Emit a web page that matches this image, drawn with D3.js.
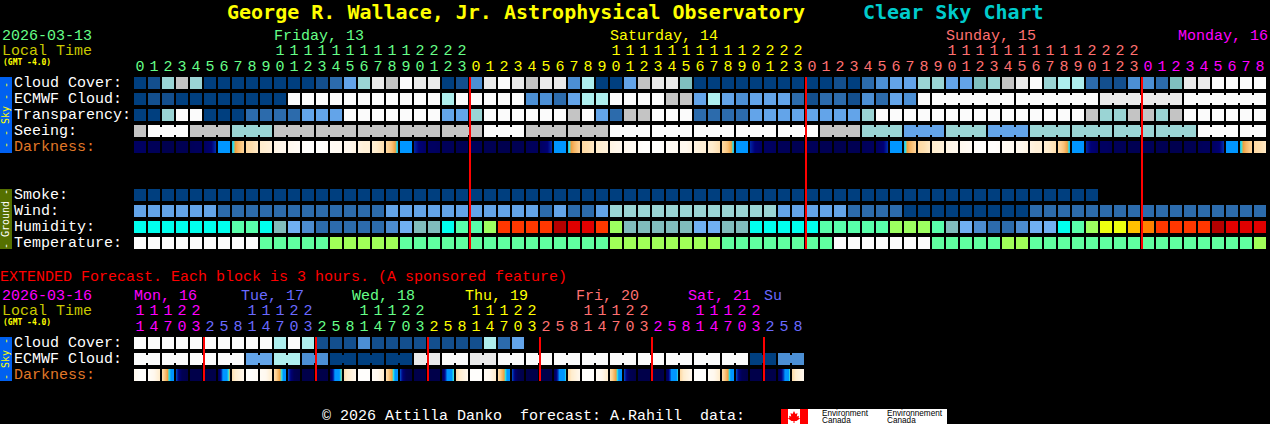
<!DOCTYPE html>
<html><head><meta charset="utf-8">
<script src="https://cdn.jsdelivr.net/npm/d3@7"></script>
<style>
html,body{margin:0;padding:0;background:#000;overflow:hidden}
svg{display:block}
text{font-family:"Liberation Mono",monospace;font-size:15px;white-space:pre}
</style></head><body>
<svg id="c" width="1270" height="424"></svg>
<script>
// ---------- main forecast (hourly, one entry per block) ----------
const cloudCover = [0,10,60,80,60,0,0,0,0,0,0,0,0,10,20,40,60,90,80,100,90,90,0,10,30,90,100,90,80,90,90,30,70,0,0,40,80,90,90,50,0,0,0,0,0,0,0,0,0,0,10,0,20,30,40,40,60,60,40,40,50,60,80,90,100,60,70,70,20,10,10,30,30,20,50,90,90,100,100,100,100];
const ecmwfCloud = [0,10,10,0,0,0,0,0,0,0,0,100,100,100,100,100,100,100,100,100,100,100,70,100,100,100,100,100,30,30,20,40,70,70,100,100,100,100,80,80,40,70,40,30,40,40,40,20,10,20,20,10,30,20,40,30,100,100,100,100,100,100,100,100,100,100,100,100,100,90,90,90,90,90,90,100,100,100,100,100,100];
const transparency = [0,0,60,100,100,0,0,0,20,20,20,20,40,40,40,100,100,100,100,100,100,100,40,40,60,100,100,100,100,100,100,80,100,40,20,80,80,100,100,100,20,20,20,20,40,40,40,40,40,40,40,40,60,100,100,100,100,100,100,100,100,100,100,100,100,100,100,100,80,60,60,80,80,60,80,100,100,100,100,100,100];
const seeing = [80,100,100,100,80,80,80,60,60,60,80,80,80,80,80,80,80,80,80,80,80,80,80,80,80,100,100,100,80,80,80,80,80,80,100,100,100,100,100,100,100,100,100,100,100,100,100,100,100,80,80,80,60,60,60,40,40,40,60,60,60,40,40,40,60,60,60,60,60,60,60,60,60,60,60,60,100,100,100,100,100];
const smoke = [0,0,0,0,0,0,0,0,0,0,0,0,0,0,0,0,0,0,0,0,0,0,0,0,0,0,0,0,0,0,0,0,0,0,0,0,0,0,0,0,0,0,0,0,0,0,0,0,0,0,0,0,0,0,0,0,0,0,0,0,0,0,0,0,0,0,0,0,0];
const wind = [40,40,40,40,40,40,20,20,20,20,20,20,20,20,20,20,20,20,40,40,40,40,40,40,40,40,40,40,40,20,40,20,20,40,60,60,60,60,60,60,60,60,60,60,60,60,40,40,40,40,40,20,20,20,20,0,0,0,0,0,0,0,0,0,20,20,20,20,20,20,20,20,20,20,20,20,20,20,20,20,20];
const humidity = [50,50,50,50,50,50,50,55,55,50,45,40,35,30,30,30,30,30,35,40,45,45,50,55,55,60,80,80,80,80,90,85,85,80,60,45,45,45,45,45,40,40,45,45,50,50,50,50,50,55,55,55,55,55,60,60,60,55,45,40,35,30,30,35,40,40,50,55,60,65,65,70,75,80,80,80,80,90,85,85,85];
const temperature = [-8,-8,-8,-8,-8,-8,-8,-8,-8,-3,-3,-3,-3,-3,2,2,2,2,2,-3,-3,-3,-3,-3,-3,-3,-3,-3,-3,-3,-3,-3,-3,-3,2,2,2,2,2,2,2,2,-3,-3,-3,-3,-3,-3,-3,-3,-8,-8,-8,-8,-8,-8,-8,-3,-3,-3,-3,-3,2,2,-3,-3,-3,-3,-3,-3,-3,-3,-3,-3,-3,-3,-3,-3,-3,-3,2];
// sky brightness inside each block: [start, middle, end]
const darkness = [[.5,.5,.5],[.3,.3,.3],[.1,.1,.1],[.2,.2,.2],[.3,.4,.4],[.5,.8,1.5],[2.2,2.5,2.8],[3.1,4,4.6],[4.8,5,5.4],[5.5,5.8,6.1],[6.5,6.8,7],[7,7.5,8],[8.5,9,9],[9,9,8.5],[8,7.5,7.5],[7,7,6.5],[6.5,6,6],[5.8,5.4,5],[4.8,4.2,3.1],[2.8,2.5,2.2],[1.4,.9,.6],[.5,.5,.4],[.3,.3,.3],[.2,.2,.2],
 [.3,.3,.3],[.2,.2,.2],[.1,.1,.1],[.2,.2,.2],[.3,.4,.4],[.5,.8,1.5],[2.2,2.5,2.8],[3.1,4,4.6],[4.8,5,5.4],[5.5,5.8,6.1],[6.5,6.8,7],[7,7.5,8],[8.5,9,9],[9,9,8.5],[8,7.5,7.5],[7,7,6.5],[6.5,6,6],[5.8,5.4,5],[4.8,4.2,3.1],[2.8,2.5,2.2],[1.4,.9,.6],[.5,.5,.4],[.3,.3,.3],[.2,.2,.2],
 [.3,.3,.3],[.2,.2,.2],[.1,.1,.1],[.2,.2,.2],[.3,.4,.4],[.5,.8,1.5],[2.2,2.5,2.8],[3.1,4,4.6],[4.8,5,5.4],[5.5,5.8,6.1],[6.5,6.8,7],[7,7.5,8],[8.5,9,9],[9,9,8.5],[8,7.5,7.5],[7,7,6.5],[6.5,6,6],[5.8,5.4,5],[4.8,4.2,3.1],[2.8,2.5,2.2],[1.4,.9,.6],[.5,.5,.4],[.3,.3,.3],[.2,.2,.2],
 [.3,.3,.3],[.2,.2,.2],[.1,.1,.1],[.2,.2,.2],[.3,.4,.4],[.5,.8,1.5],[2.2,2.5,2.8],[3.1,4,4.6],[4.8,5,5.4]];
// sizes of the merged blocks (notched joins)
const seeingBlocks = [1,3,3,3,3,3,3,3,3,3,3,3,3,3,3,3,3,3,3,3,3,3,3,3,3,3,3,2];
const ecmwfBlocks = [1,1,1,1,1,1,1,1,1,1,1,1,1,1,1,1,1,1,1,1,1,1,1,1,1,1,1,1,1,1,1,1,1,1,1,1,1,1,1,1,1,1,1,1,1,1,1,1,1,1,1,1,1,1,1,1,1,6,6,6,6];
const dayLabels = ["Friday, 13","Saturday, 14","Sunday, 15","Monday, 16"];
const dayColumns = [10,34,58,74.57];
const dayColors = ["#66ff88","#ffff00","#ff7070","#ff00ff"];
// ---------- extended forecast (3-hour blocks) ----------
const extHours = [11,14,17,20,23,2,5,8,11,14,17,20,23,2,5,8,11,14,17,20,23,2,5,8,11,14,17,20,23,2,5,8,11,14,17,20,23,2,5,8,11,14,17,20,23,2,5,8];
const extDays = [0,0,0,0,0,1,1,1,1,1,1,1,1,2,2,2,2,2,2,2,2,3,3,3,3,3,3,3,3,4,4,4,4,4,4,4,4,5,5,5,5,5,5,5,5,6,6,6];
const extDayLabels = ["Mon, 16","Tue, 17","Wed, 18","Thu, 19","Fri, 20","Sat, 21","Su"];
const extDayColumns = [0,7.64,15.57,23.64,31.57,39.57,45];
const extDayColors = ["#ff00ff","#6a6aff","#66ff88","#ffff00","#ff7070","#ff00ff","#6a6aff"];
const extCloud = [100,100,100,100,100,100,100,100,100,100,70,100,70,10,10,10,30,10,10,10,10,10,10,10,10,70,20,40];
const extEcmwf = [100,100,100,100,100,100,100,100,40,40,70,70,30,30,0,0,0,0,0,0,90,90,100,100,90,90,100,100,100,100,100,100,100,100,100,100,100,100,100,100,100,100,100,100,0,0,30,30];
const extDarkness = [[7,9,9],[8.5,7,5.5],[5,3.5,2.5],[1.7,.2,0],[0,0,0],[0,0,0],[.2,2.4,3.6],[5,6,7],[9,9,8],[8,7,5.5],[5,3.6,2.5],[1.7,.2,0],[0,0,0],[0,0,0],[.2,2.4,3.5],[5,6,7],[9,9,9],[8,7,5.5],[5,3.6,2.4],[1.7,.2,0],[0,0,0],[0,0,0],[.2,2.3,3.4],[4.8,6,7],[9,9,9],[8,7,5.5],[5,3.6,2.4],[1.7,.2,0],[0,0,0],[0,0,0],[.2,2.2,3.3],[4.8,6,7],[9,9,9],[8,7,5.5],[5,3.6,2.3],[1.7,.2,0],[0,0,0],[0,0,0],[.1,2.2,3.3],[4.8,6,7],[9,9,9],[8,7,5.5],[5,3.6,2.3],[1.7,.2,0],[0,0,0],[0,0,0],[.1,1.7,3.4],[4.8,6,7]];
const extEcmwfBlocks = [2,2,2,2,2,2,2,2,2,2,2,2,2,2,2,2,2,2,2,2,2,2,2,2];

// ---------- colour scales ----------
const levelColor = d3.scaleOrdinal([0,10,20,30,40,50,60,70,80,90,100],
  ["#003f7f","#134f8e","#2c6bac","#4c8fd4","#63a4e9","#7fbfbf","#9ad4d4","#aeeeee","#c4c4c4","#eaeaea","#fbfbfb"]);
const humidityColor = d3.scaleOrdinal([30,35,40,45,50,55,60,65,70,75,80,85,90],
  ["#2c6bac","#4c8cd0","#70b0f2","#80bcbc","#00ffee","#58ffaa","#9dff60","#eeff10","#ffc000","#ff8000","#ff3700","#e00000","#b50000"]);
const temperatureColor = d3.scaleOrdinal([-8,-3,2],["#fbfbfb","#60ffa0","#a0ff58"]);
const brightnessColor = d3.scaleLinear()
  .domain([0,1,1.5,2,3,3.3,3.6,4.5,5.5,7,9])
  .range(["#00004a","#000078","#0030b0","#0096ff","#0096ff","#30e0e0","#f0a040","#fdd090","#ffeccc","#fff8ee","#fffefc"]);

// ---------- layout ----------
const STEP = 14, CELL = 12, LEFT = 134;
const svg = d3.select("#c");
svg.append("rect").attr("width",1270).attr("height",424).attr("fill","#000");
const bandFor = n => d3.scaleBand().domain(d3.range(n)).range([LEFT, LEFT+n*STEP-(STEP-CELL)]).paddingInner((STEP-CELL)/STEP);
const xMain = bandFor(81), xExt = bandFor(48);
const yMain = d3.scalePoint().domain(["Cloud Cover:","ECMWF Cloud:","Transparency:","Seeing:","Darkness:","_a","_b","Smoke:","Wind:","Humidity:","Temperature:"]).range([77,77+10*16]);
const yExt = d3.scalePoint().domain(["Cloud Cover:","ECMWF Cloud:","Darkness:"]).range([337,337+2*16]);

function txt(x,y,s,fill,extra){
  const t = svg.append("text").attr("x",x).attr("y",y).attr("fill",fill).text(s);
  if(extra) for(const k in extra) t.style(k,extra[k]);
  return t;
}
function row(x,y0,values,color,blocks){
  const g = svg.append("g").attr("shape-rendering","crispEdges");
  g.selectAll("rect.c").data(values).join("rect").attr("class","c")
    .attr("x",(d,i)=>x(i)).attr("y",y0).attr("width",x.bandwidth()).attr("height",CELL).attr("fill",d=>color(d));
  if(blocks){
    const joins=[]; let s=0;
    blocks.forEach(n=>{ for(let k=s;k<s+n-1;k++) joins.push(k); s+=n; });
    g.selectAll("rect.j").data(joins).join("rect").attr("class","j")
      .attr("x",i=>x(i)+x.bandwidth()).attr("y",y0+2).attr("width",x.step()-x.bandwidth()).attr("height",CELL-4)
      .attr("fill",i=>color(values[i]));
  }
}
function darkRow(x,y0,values){
  const g = svg.append("g").attr("shape-rendering","crispEdges");
  const px = d3.range(CELL);
  const interp = d3.scaleLinear().domain([0,.5,1]);
  values.forEach((tri,i)=>{
    interp.range(tri);
    g.selectAll(null).data(px).join("rect")
      .attr("x",p=>x(i)+p).attr("y",y0).attr("width",1).attr("height",CELL)
      .attr("fill",p=>brightnessColor(interp((p+.5)/CELL)));
  });
}
function sideBar(y,h,fill,s,tc){
  svg.append("rect").attr("x",0).attr("y",y).attr("width",12).attr("height",h).attr("fill",fill).attr("shape-rendering","crispEdges");
  return svg.append("text").attr("transform",`translate(9,${y+h/2}) rotate(-90)`).attr("text-anchor","middle").attr("fill",tc)
    .style("font-family","DejaVu Sans Mono").style("font-size","10px").text(s);
}

// ---------- title ----------
const bold = {"font-family":"DejaVu Sans Mono","font-size":"20px","font-weight":"bold"};
txt(227,19,"George R. Wallace, Jr. Astrophysical Observatory","#ffff00",bold);
txt(863,19,"Clear Sky Chart","#00cccc",bold);

// ---------- header main ----------
const gmt = {"font-family":"DejaVu Sans Mono","font-size":"8px","font-weight":"bold"};
txt(2,40,"2026-03-13","#66ff88");
txt(2,55,"Local Time","#c8c800");
txt(3,65,"(GMT -4.0)","#ffff00",gmt);
dayLabels.forEach((s,i)=>txt(LEFT+dayColumns[i]*STEP,40,s,dayColors[i]));
d3.range(81).forEach(i=>{
  const h=i%24, c=dayColors[Math.floor(i/24)], cx=xMain(i)+CELL/2;
  if(h>=10) txt(cx,55,String(Math.floor(h/10)),c,{"text-anchor":"middle"});
  txt(cx,71,String(h%10),c,{"text-anchor":"middle"});
});

// ---------- main rows ----------
sideBar(77,76,"#0060f0","- - Sky - -","#ffff00");
sideBar(189,60,"#557000","- Ground -","#ffffff");
[["Cloud Cover:",cloudCover,levelColor,null],["ECMWF Cloud:",ecmwfCloud,levelColor,ecmwfBlocks],["Transparency:",transparency,levelColor,null],["Seeing:",seeing,levelColor,seeingBlocks],
 ["Smoke:",smoke,levelColor,null],["Wind:",wind,levelColor,null],["Humidity:",humidity,humidityColor,null],["Temperature:",temperature,temperatureColor,null]]
 .forEach(([n,v,c,b])=>{ row(xMain,yMain(n),v,c,b); txt(14,yMain(n)+9.5,n,"#ffffff"); });
darkRow(xMain,yMain("Darkness:"),darkness);
txt(14,yMain("Darkness:")+9.5,"Darkness:","#e07828");

// midnight lines
svg.append("g").attr("shape-rendering","crispEdges").selectAll("rect").data([24,48,72]).join("rect")
  .attr("x",i=>xMain(i)-1).attr("y",77).attr("width",2).attr("height",172).attr("fill","#ff0000");

// ---------- extended ----------
txt(0,281,"EXTENDED Forecast. Each block is 3 hours. (A sponsored feature)","#ff0000");
txt(2,300,"2026-03-16","#ff00ff");
txt(2,315,"Local Time","#c8c800");
txt(3,325,"(GMT -4.0)","#ffff00",gmt);
extDayLabels.forEach((s,i)=>txt(LEFT+extDayColumns[i]*STEP,300,s,extDayColors[i]));
extHours.forEach((h,i)=>{
  const c=extDayColors[extDays[i]], cx=xExt(i)+CELL/2;
  if(h>=10) txt(cx,315,String(Math.floor(h/10)),c,{"text-anchor":"middle"});
  txt(cx,331,String(h%10),c,{"text-anchor":"middle"});
});
sideBar(337,44,"#0060f0","- Sky -","#ffff00");
row(xExt,yExt("Cloud Cover:"),extCloud,levelColor,null);
row(xExt,yExt("ECMWF Cloud:"),extEcmwf,levelColor,extEcmwfBlocks);
darkRow(xExt,yExt("Darkness:"),extDarkness);
txt(14,yExt("Cloud Cover:")+9.5,"Cloud Cover:","#ffffff");
txt(14,yExt("ECMWF Cloud:")+9.5,"ECMWF Cloud:","#ffffff");
txt(14,yExt("Darkness:")+9.5,"Darkness:","#e07828");
svg.append("g").attr("shape-rendering","crispEdges").selectAll("rect").data([5,13,21,29,37,45]).join("rect")
  .attr("x",i=>xExt(i)-1).attr("y",337).attr("width",2).attr("height",44).attr("fill","#ff0000");

// ---------- footer ----------
txt(322,420,"© 2026 Attilla Danko  forecast: A.Rahill  data:","#ffffff");
svg.append("rect").attr("x",781).attr("y",409).attr("width",166).attr("height",15).attr("fill","#fff");
svg.append("rect").attr("x",781).attr("y",409).attr("width",7).attr("height",15).attr("fill","#ff0000");
svg.append("rect").attr("x",800).attr("y",409).attr("width",8).attr("height",15).attr("fill","#ff0000");
svg.append("path").attr("fill","#ff0000").attr("d","M794 411l1.5 3 2-1-.7 3.5 2.2-.8-.5 1.8 1.5 1-3.5 2.5h-2v2h-1v-2h-2l-3.5-2.5 1.5-1-.5-1.8 2.2.8-.7-3.5 2 1z");
const logo={"font-family":"Liberation Sans,sans-serif","font-size":"8.2px"};
txt(822,416,"Environment","#000",logo); txt(822,423,"Canada","#000",logo);
txt(887,416,"Environnement","#000",logo); txt(887,423,"Canada","#000",logo);
</script></body></html>
